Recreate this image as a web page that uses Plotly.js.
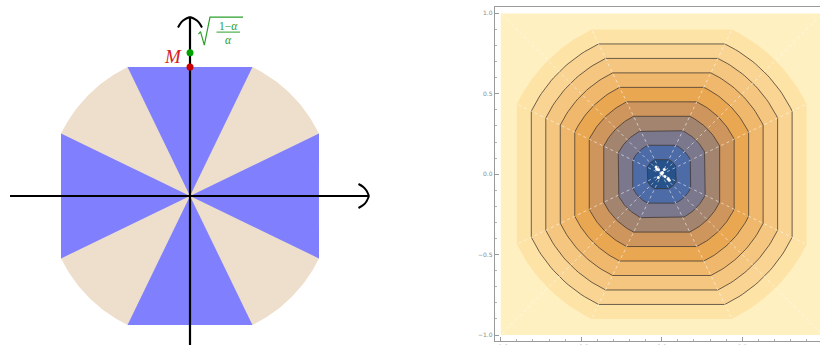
<!DOCTYPE html>
<html>
<head>
<meta charset="utf-8">
<script src="https://cdn.plot.ly/plotly-3.0.1.min.js"></script>
<style>
  html, body { margin: 0; padding: 0; background: #ffffff; }
  #plot { width: 820px; height: 345px; }
</style>
</head>
<body>
<div id="plot"></div>
<script>
// ---------- values ----------
// left figure: square of half-side M clipped by the circle of radius R = sqrt((1-α)/α)
const squareHalfSide = [0.9];          // M (red point)
const circleRadius = [1.0];            // sqrt((1-α)/α) (green point)
const sectorColors = ['#8080FF', '#EEDFCC'];   // [flat sectors, arc sectors]
const axisEnds = [-1.256, 1.249, -1.2, 1.249]; // x min, x max, y min, y max of the drawn axes

// right figure: filled contour levels of the same gauge function
const contourLevels = [1.0, 0.9, 0.8, 0.7, 0.6, 0.5, 0.4, 0.3, 0.2, 0.1];
const bandColors = ['#FFF0C2', '#FDE3A6', '#F9D493', '#F4C67F', '#EFB86C', '#E9A752',
                    '#CE955C', '#A2846F', '#7B778D', '#4D6BA6', '#25528B'];
const linedLevels = [0.9, 0.8, 0.7, 0.6, 0.5, 0.4, 0.3, 0.2, 0.1];
const plotBox = [-1, 1, -1, 1];
const centreSpeckX = [-0.035, -0.02, 0.0, 0.02, 0.047, 0.016, 0.004, -0.021, -0.03, 0.04];
const centreSpeckY = [0.045, 0.028, 0.006, -0.015, -0.037, 0.029, 0.01, -0.021, 0.03, -0.028];
const tickValues = [-1, -0.5, 0, 0.5, 1];
const tickLabels = ['\u22121.0', '\u22120.5', '0.0', '0.5', '1.0'];

// ---------- geometry helpers ----------
const M = squareHalfSide[0], R = circleRadius[0];
const kink = Math.acos(M / R);        // half-width of a flat sector
const PX = 143.3;                      // px per unit on the left panel

// boundary of {gauge <= c}: flat edges around the axes, arcs between them
function levelOutline(c, n) {
  const xs = [], ys = [];
  for (let q = 0; q < 4; q++) {
    const a = q * Math.PI / 2;
    for (const phi of [a - kink, a + kink]) {
      xs.push(c * Math.cos(phi)); ys.push(c * Math.sin(phi));
    }
    const span = Math.PI / 2 - 2 * kink;
    for (let k = 1; k < n; k++) {
      const phi = a + kink + span * k / n;
      xs.push(c * Math.cos(phi)); ys.push(c * Math.sin(phi));
    }
  }
  xs.push(xs[0]); ys.push(ys[0]);
  return {x: xs, y: ys};
}

const traces = [];

// ---------- left panel ----------
const full = levelOutline(R, 40);
traces.push({x: full.x, y: full.y, xaxis: 'x', yaxis: 'y', mode: 'lines', fill: 'toself',
  fillcolor: sectorColors[1], line: {width: 0}, hoverinfo: 'skip'});
for (let q = 0; q < 4; q++) {
  const a = q * Math.PI / 2;
  const xs = [0], ys = [0];
  for (const phi of [a - kink, a + kink]) { xs.push(R * Math.cos(phi)); ys.push(R * Math.sin(phi)); }
  xs.push(0); ys.push(0);
  traces.push({x: xs, y: ys, xaxis: 'x', yaxis: 'y', mode: 'lines', fill: 'toself',
    fillcolor: sectorColors[0], line: {width: 0}, hoverinfo: 'skip'});
}
// axes
traces.push({x: [axisEnds[0], axisEnds[1]], y: [0, 0], xaxis: 'x', yaxis: 'y', mode: 'lines',
  line: {color: '#000', width: 2.2}, hoverinfo: 'skip'});
traces.push({x: [0, 0], y: [axisEnds[2], axisEnds[3]], xaxis: 'x', yaxis: 'y', mode: 'lines',
  line: {color: '#000', width: 2.2}, hoverinfo: 'skip'});
// curved arrow heads: each arm runs from the tip back and outwards (back, side in px)
const headArm = [[0, 0], [2.4, 5.2], [5.4, 8.8], [10.5, 12]];
function arrowHead(tx, ty, ux, uy) {
  const vx = -uy, vy = ux;
  return [1, -1].map(sign => ({
    x: headArm.map(([b, s]) => tx + (-b * ux + sign * s * vx) / PX),
    y: headArm.map(([b, s]) => ty + (-b * uy + sign * s * vy) / PX),
    xaxis: 'x', yaxis: 'y', mode: 'lines',
    line: {color: '#000', width: 2, shape: 'spline', smoothing: 1}, hoverinfo: 'skip'
  }));
}
traces.push(...arrowHead(axisEnds[1], 0, 1, 0));
traces.push(...arrowHead(0, axisEnds[3], 0, 1));
// radical sign and fraction bar of the green label (offsets in px from the green point)
const radical = [[8.5, 18.5], [10.5, 21], [14.3, 7.5], [20, 35.6], [53, 35.6]];
traces.push({x: radical.map(p => p[0] / PX), y: radical.map(p => R + p[1] / PX), xaxis: 'x', yaxis: 'y',
  mode: 'lines', line: {color: '#2AA02A', width: 1.2}, hoverinfo: 'skip'});
traces.push({x: [26.5 / PX, 50 / PX], y: [R + 20.6 / PX, R + 20.6 / PX], xaxis: 'x', yaxis: 'y',
  mode: 'lines', line: {color: '#2AA02A', width: 1}, hoverinfo: 'skip'});
// points M and sqrt((1-α)/α)
traces.push({x: [0], y: [M], xaxis: 'x', yaxis: 'y', mode: 'markers',
  marker: {color: '#CC0000', size: 7}, hoverinfo: 'skip'});
traces.push({x: [0], y: [R], xaxis: 'x', yaxis: 'y', mode: 'markers',
  marker: {color: '#00A000', size: 7}, hoverinfo: 'skip'});

// ---------- right panel ----------
traces.push({x: [plotBox[0], plotBox[1], plotBox[1], plotBox[0], plotBox[0]],
  y: [plotBox[2], plotBox[2], plotBox[3], plotBox[3], plotBox[2]], xaxis: 'x2', yaxis: 'y2',
  mode: 'lines', fill: 'toself', fillcolor: bandColors[0], line: {width: 0}, hoverinfo: 'skip'});
contourLevels.forEach((c, i) => {
  const o = levelOutline(c, 24);
  traces.push({x: o.x, y: o.y, xaxis: 'x2', yaxis: 'y2', mode: 'lines', fill: 'toself',
    fillcolor: bandColors[i + 1], line: {width: 0}, hoverinfo: 'skip'});
});
linedLevels.forEach(c => {
  const o = levelOutline(c, 24);
  traces.push({x: o.x, y: o.y, xaxis: 'x2', yaxis: 'y2', mode: 'lines',
    line: {color: 'rgba(60,52,45,0.75)', width: 1}, hoverinfo: 'skip'});
});
// mesh seams: rays through the kinks and the diagonals
const rayX = [], rayY = [];
for (let q = 0; q < 4; q++) {
  const a = q * Math.PI / 2;
  for (const phi of [a - kink, a + kink]) {
    rayX.push(0, R * Math.cos(phi), null); rayY.push(0, R * Math.sin(phi), null);
  }
  const d = a + Math.PI / 4;
  rayX.push(0, Math.SQRT2 * Math.cos(d), null); rayY.push(0, Math.SQRT2 * Math.sin(d), null);
}
traces.push({x: rayX, y: rayY, xaxis: 'x2', yaxis: 'y2', mode: 'lines',
  line: {color: 'rgba(255,255,255,0.55)', width: 1, dash: 'dot'}, hoverinfo: 'skip'});
traces.push({x: centreSpeckX, y: centreSpeckY, xaxis: 'x2', yaxis: 'y2', mode: 'markers',
  marker: {color: '#FFFFFF', size: 3}, hoverinfo: 'skip'});

const frameAxis = {
  showline: true, linecolor: '#9A9A9A', linewidth: 1, showgrid: false, zeroline: false,
  ticks: 'inside', ticklen: 4, tickcolor: '#9A9A9A', tickvals: tickValues, ticktext: tickLabels,
  tickfont: {family: 'DejaVu Sans', size: 6, color: '#8A8A8A'},
  minor: {ticks: 'inside', ticklen: 2, tickcolor: '#B0B0B0', tickmode: 'linear', tick0: 0, dtick: 0.1},
  fixedrange: true
};

const layout = {
  width: 820, height: 345,
  margin: {l: 0, r: 0, t: 0, b: 0},
  paper_bgcolor: '#FFFFFF', plot_bgcolor: 'rgba(0,0,0,0)',
  showlegend: false,
  xaxis: {domain: [0, 380 / 820], range: [-1.3259, 1.3259], visible: false, fixedrange: true},
  yaxis: {domain: [0, 1], range: [-1.0398, 1.3678], visible: false, fixedrange: true},
  xaxis2: Object.assign({}, frameAxis, {domain: [494.7 / 820, 1], range: [-1.0373, 0.9832],
    anchor: 'y2', mirror: true}),
  yaxis2: Object.assign({}, frameAxis, {domain: [4 / 345, 338.3 / 345], range: [-1.0373, 1.0416],
    anchor: 'x2', mirror: false}),
  annotations: [
    {x: 0, y: M, xref: 'x', yref: 'y', text: '<i>M</i>', showarrow: false,
      xshift: -17, yshift: 11, font: {family: 'Liberation Serif', size: 19, color: '#D42020'}},
    {x: 0, y: R, xref: 'x', yref: 'y', text: '1\u2212<i>\u03b1</i>', showarrow: false,
      xshift: 38, yshift: 26.5, font: {family: 'Liberation Serif', size: 11.5, color: '#2AA02A'}},
    {x: 0, y: R, xref: 'x', yref: 'y', text: '<i>\u03b1</i>', showarrow: false,
      xshift: 38, yshift: 12.5, font: {family: 'Liberation Serif', size: 11.5, color: '#2AA02A'}}
  ]
};

Plotly.newPlot('plot', traces, layout, {staticPlot: true, displayModeBar: false});
</script>
</body>
</html>
